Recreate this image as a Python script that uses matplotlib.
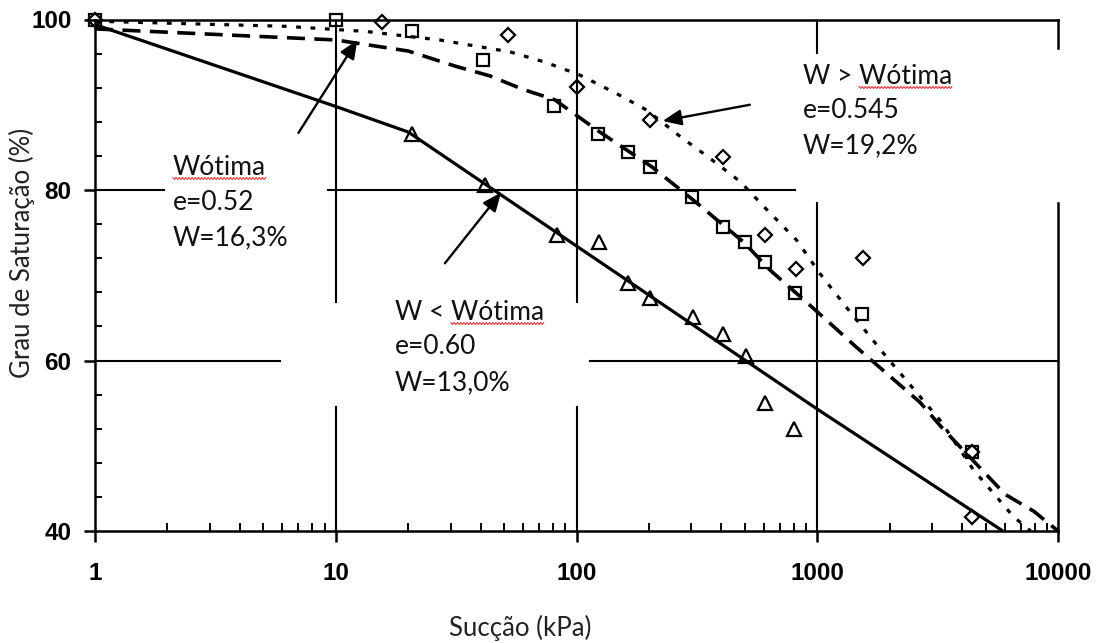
import matplotlib
matplotlib.use("Agg")
import matplotlib.pyplot as plt
from matplotlib.lines import Line2D
from matplotlib.ticker import FixedLocator, NullFormatter, FixedFormatter, LogLocator
import numpy as np

plt.rcParams['font.family'] = ['Lato', 'DejaVu Sans']

# ---------------- data ----------------
x_ticks = [1, 10, 100, 1000, 10000]
x_tick_labels = ['1', '10', '100', '1000', '10000']
y_ticks = [40, 60, 80, 100]

# W < Wótima (triangles, solid fit)
tri_x = [20.7, 41.7, 82.7, 124, 164, 202, 304, 405, 506, 607, 800]
tri_y = [86.6, 80.6, 74.7, 73.9, 69.1, 67.3, 65.1, 63.1, 60.5, 55.0, 52.0]
solid_x = [1, 10, 20, 1000, 5900]
solid_y = [99.4, 89.8, 86.8, 54.3, 40]

# Wótima (squares, long-dash fit)
sq_x = [1, 10, 20.7, 41, 81, 123, 164, 202, 301, 405, 501, 607, 809, 1530, 4380]
sq_y = [100, 100, 98.6, 95.3, 89.8, 86.6, 84.4, 82.7, 79.2, 75.7, 73.9, 71.6, 67.9, 65.5, 49.3]
dash_x = [1, 10, 20, 31.6, 43.5, 60, 81, 125, 206, 306, 494, 637, 881, 1087, 1435,
          2670, 3300, 6030, 7950, 10000]
dash_y = [98.9, 97.6, 96.3, 94.5, 93.4, 91.8, 90.6, 86.8, 82.7, 78.8, 73.9, 70.6, 67.1,
          64.8, 61.7, 55.1, 52.1, 44.3, 42.3, 40]

# W > Wótima (diamonds, dotted fit)
dia_x = [1, 15.5, 52, 100, 202, 405, 607, 816, 1545, 4380, 4380]
dia_y = [100, 99.7, 98.2, 92.1, 88.2, 83.9, 74.7, 70.7, 72.0, 49.3, 41.7]
dot_x = [1, 6.2, 13.3, 27, 53, 74, 103, 147, 195, 269, 359, 478, 617, 822, 1026, 1283,
         1941, 3236, 4448, 6519, 7700]
dot_y = [99.8, 99.2, 98.6, 97.6, 96.2, 95.0, 93.5, 91.3, 89.4, 86.3, 83.7, 81.0, 77.7,
         74.1, 70.2, 66.7, 60.4, 53.0, 47.2, 41.7, 40]

# annotation texts
label_opt = ['Wótima', 'e=0.52', 'W=16,3%']
label_low = ['W < Wótima', 'e=0.60', 'W=13,0%']
label_high = ['W > Wótima', 'e=0.545', 'W=19,2%']

# ---------------- figure ----------------
W, H = 1106, 643
fig = plt.figure(figsize=(W / 100, H / 100), dpi=100)
L, R, T, B = 95, 1058, 19.5, 531
ax = fig.add_axes([L / W, 1 - B / H, (R - L) / W, (B - T) / H])
ax.set_xscale('log')
ax.set_xlim(1, 10000)
ax.set_ylim(40, 100)

for s in ['top', 'left', 'bottom']:
    ax.spines[s].set_linewidth(1.8)
ax.spines['right'].set_visible(False)

tick_font = dict(family='Liberation Sans', weight='bold', size=17.5)
ax.xaxis.set_major_locator(FixedLocator(x_ticks))
ax.xaxis.set_major_formatter(FixedFormatter(x_tick_labels))
ax.xaxis.set_minor_locator(LogLocator(base=10, subs=range(2, 10)))
ax.xaxis.set_minor_formatter(NullFormatter())
ax.yaxis.set_major_locator(FixedLocator(y_ticks))
ax.yaxis.set_minor_locator(FixedLocator([v for v in range(44, 100, 4) if v % 20]))
ax.tick_params(axis='x', which='major', direction='out', length=8, width=1.8, pad=14)
ax.tick_params(axis='x', which='minor', direction='in', length=6, width=1.4)
ax.tick_params(axis='y', which='major', direction='out', length=8, width=1.8, pad=9)
ax.tick_params(axis='y', which='minor', direction='in', length=5, width=1.4)
for lab in ax.get_xticklabels() + ax.get_yticklabels():
    lab.set_fontproperties(tick_font)


# partial grid lines (gaps where the original labels sat)
def fx(px):
    return (px - L) / (R - L)


def fy(py):
    return (B - py) / (B - T)


glw = 1.5
ax.axhline(80, fx(L), fx(164), color='black', lw=glw)
ax.axhline(80, fx(328), fx(795), color='black', lw=glw)
ax.axhline(60, fx(L), fx(280), color='black', lw=glw)
ax.axhline(60, fx(590), fx(R), color='black', lw=glw)
for xv in [10, 100]:
    ax.axvline(xv, fy(302), 1, color='black', lw=glw)
    ax.axvline(xv, 0, fy(407), color='black', lw=glw)
ax.axvline(1000, fy(53), 1, color='black', lw=glw)
ax.axvline(1000, 0, fy(203), color='black', lw=glw)
ax.axvline(10000, fy(48), 1, color='black', lw=1.8, clip_on=False)
ax.axvline(10000, 0, fy(203), color='black', lw=1.8, clip_on=False)

# fitted curves
ax.plot(solid_x, solid_y, color='black', lw=2.3, solid_capstyle='butt', zorder=3)
ax.plot(dash_x, dash_y, color='black', lw=2.6, ls=(0, (5, 2.6)), zorder=3)
ax.plot(dot_x, dot_y, color='black', lw=2.3, ls=(0, (1.5, 3.0)), zorder=3)

# data markers
mk = dict(ls='none', mfc='none', mec='black', mew=1.6, zorder=4, clip_on=False)
ax.plot(tri_x, tri_y, marker='^', ms=9.5, **mk)
ax.plot(sq_x, sq_y, marker='s', ms=8.5, **mk)
ax.plot(dia_x, dia_y, marker='D', ms=7, **mk)

# arrows
ap = dict(arrowstyle='-|>,head_length=0.75,head_width=0.32', color='black', lw=1.7,
          shrinkA=0, shrinkB=0, mutation_scale=15)
ax.annotate('', xy=(12.3, 97.6), xytext=(7.0, 86.7), arrowprops=ap)
ax.annotate('', xy=(48.6, 79.7), xytext=(28.4, 71.4), arrowprops=ap)
ax.annotate('', xy=(228, 88.1), xytext=(525, 90.0), arrowprops=ap)

# annotation text blocks (pixel positions from top-left)
txt_size = 19
blocks = [(173, [175, 210, 245], label_opt, ''),
          (395, [320, 354, 390], label_low, 'W < '),
          (803, [84, 118, 153], label_high, 'W > ')]
texts = []
for x0, ys, lines, prefix in blocks:
    for i, (yy, s) in enumerate(zip(ys, lines)):
        t = fig.text(x0 / W, 1 - yy / H, s, fontsize=txt_size, va='baseline', ha='left',
                     color='#111111')
        if i == 0:
            p = fig.text(x0 / W, 1 - yy / H, prefix, fontsize=txt_size, va='baseline',
                         ha='left', alpha=0)
            texts.append((t, p, yy))

# axis labels
fig.text(22 / W, 1 - 253 / H, 'Grau de Saturação (%)', rotation=90, fontsize=18.5,
         ha='center', va='center', color='#222222')
fig.text(520 / W, 1 - 636 / H, 'Sucção (kPa)', fontsize=18.5, ha='center', va='baseline',
         color='#222222')

# red spell-check squiggles under "Wótima"
fig.canvas.draw()
r = fig.canvas.get_renderer()
for t, p, yy in texts:
    bb = t.get_window_extent(r)
    x1 = bb.x1
    x0 = bb.x0 + (p.get_window_extent(r).width if p.get_text() else 0)
    xs = np.arange(x0, x1 + 0.1, 1.6)
    ys = (H - yy - 3.5) + 1.0 * np.where(np.arange(len(xs)) % 2 == 0, 1, -1)
    fig.add_artist(Line2D(xs, ys, transform=None, color='#e02020', lw=0.7))

fig.savefig('out.png', dpi=100)
